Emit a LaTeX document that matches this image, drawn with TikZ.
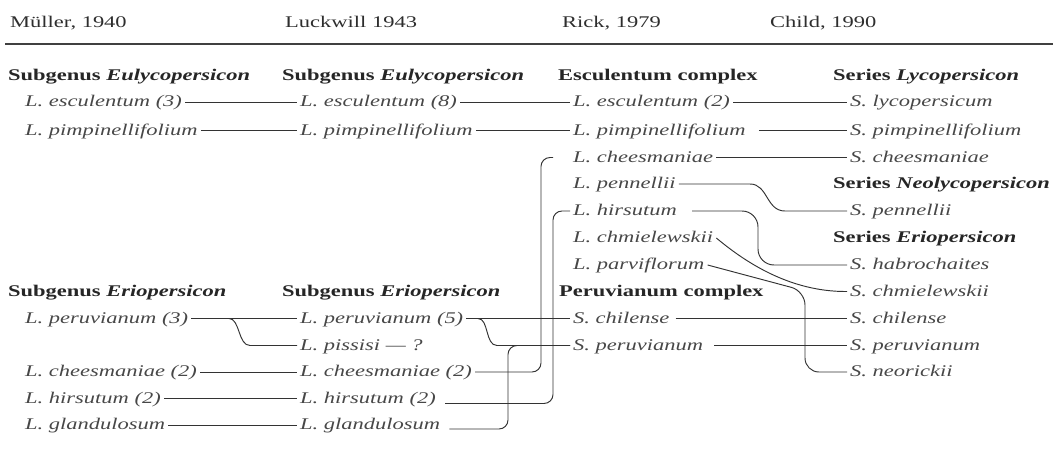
\documentclass[tikz,border=0pt]{standalone}
\usepackage{fontspec}
\setmainfont{Liberation Serif}[FakeStretch=1.38]
\begin{document}
\begin{tikzpicture}[x=1pt,y=-1pt,
  every node/.style={inner xsep=3pt, inner ysep=0pt, text height=12pt, text depth=3pt, anchor=west},
  it/.style={font=\fontsize{16.3}{19}\selectfont\itshape, text=black!72},
  bf/.style={font=\fontsize{16.3}{19}\selectfont\bfseries, text=black!85},
  hd/.style={font=\fontsize{16.3}{19}\selectfont, text=black!82, anchor=base west},
  conn/.style={draw=black!80, line width=0.95pt},
  rule/.style={draw=black!75, line width=1.9pt}]
\useasboundingbox (0,0) rectangle (1061,455);
% headers
\node[hd] (h1) at (7,27.5) {Müller, 1940};
\node[hd] (h2) at (282,27.5) {Luckwill 1943};
\node[hd] (h3) at (559,27.5) {Rick, 1979};
\node[hd] (h4) at (767,27.5) {Child, 1990};
\coordinate (rl) at (5,44);
\coordinate (rr) at (1053,44);
\draw[rule] (rl) -- (rr);
% column 1
\node[bf] (a0) at (5,75.5) {Subgenus \textit{Eulycopersicon}};
\node[it] (a1) at (22,102) {L. esculentum (3)};
\node[it] (a2) at (22,130.5) {L. pimpinellifolium};
\node[bf] (a8) at (5,291.5) {Subgenus \textit{Eriopersicon}};
\node[it] (a9) at (22,318.5) {L. peruvianum (3)};
\node[it] (a11) at (22,372) {L. cheesmaniae (2)};
\node[it] (a12) at (22,398.5) {L. hirsutum (2)};
\node[it] (a13) at (22,425) {L. glandulosum};
% column 2
\node[bf] (b0) at (279,75.5) {Subgenus \textit{Eulycopersicon}};
\node[it] (b1) at (297,102) {L. esculentum (8)};
\node[it] (b2) at (297,130.5) {L. pimpinellifolium};
\node[bf] (b8) at (279,291.5) {Subgenus \textit{Eriopersicon}};
\node[it] (b9) at (297,318.5) {L. peruvianum (5)};
\node[it] (b10) at (297,345.5) {L. pissisi — ?};
\node[it] (b11) at (297,372) {L. cheesmaniae (2)};
\node[it] (b12) at (297,398.5) {L. hirsutum (2)};
\node[it] (b13) at (297,425) {L. glandulosum};
% column 3
\node[bf] (c0) at (555,75.5) {Esculentum complex};
\node[it] (c1) at (570,102) {L. esculentum (2)};
\node[it] (c2) at (570,130.5) {L. pimpinellifolium};
\node[it] (c3) at (570,157.5) {L. cheesmaniae};
\node[it] (c4) at (570,184) {L. pennellii};
\node[it] (c5) at (570,211) {L. hirsutum};
\node[it] (c6) at (570,238) {L. chmielewskii};
\node[it] (c7) at (570,265) {L. parviflorum};
\node[bf] (c8) at (556,291.5) {Peruvianum complex};
\node[it] (c9) at (570,318.5) {S. chilense};
\node[it] (c10) at (570,345.5) {S. peruvianum};
% column 4
\node[bf] (d0) at (830,75.5) {Series \textit{Lycopersicon}};
\node[it] (d1) at (847,102) {S. lycopersicum};
\node[it] (d2) at (847,130.5) {S. pimpinellifolium};
\node[it] (d3) at (847,157.5) {S. cheesmaniae};
\node[bf] (d4) at (830,184) {Series \textit{Neolycopersicon}};
\node[it] (d5) at (847,211) {S. pennellii};
\node[bf] (d6) at (830,238) {Series \textit{Eriopersicon}};
\node[it] (d7) at (847,265) {S. habrochaites};
\node[it] (d8) at (847,291.5) {S. chmielewskii};
\node[it] (d9) at (847,318.5) {S. chilense};
\node[it] (d10) at (847,345.5) {S. peruvianum};
\node[it] (d11) at (847,372) {S. neorickii};
% connectors column 1 -> 2
\draw[conn] (a1.east) -- (b1.west);
\draw[conn] (a2.east) -- (b2.west);
\draw[conn] (a9.east) -- (b9.west);
\draw[conn] (a9.east) -- (229,318.5) .. controls (240,318.5) and (238,345.5) .. (250,345.5) -- (b10.west);
\draw[conn] (a11.east) -- (b11.west);
\draw[conn] (a12.east) -- (b12.west);
\draw[conn] (a13.east) -- (b13.west);
% connectors column 2 -> 3
\draw[conn] (b1.east) -- (c1.west);
\draw[conn] (b2.east) -- (c2.west);
\draw[conn] (b9.east) -- (c9.west);
\draw[conn] (b9.east) -- (478,318.5) .. controls (489,318.5) and (485,345.5) .. (497,345.5) -- (c10.west);
\draw[conn, rounded corners=9pt] (b11.east) -| (541,157.5) -- ([xshift=-17pt]c3.west);
\draw[conn, rounded corners=9pt] ([xshift=6pt,yshift=-5pt]b12.east) -| (553,211) -- (c5.west);
\draw[conn, rounded corners=9pt] ([xshift=6pt,yshift=-4pt]b13.east) -| (508,345.5) -- (c10.west);
% connectors column 3 -> 4
\draw[conn] (c1.east) -- (d1.west);
\draw[conn] ([xshift=10pt]c2.east) -- (d2.west);
\draw[conn] (c3.east) -- (d3.west);
\draw[conn] (c4.east) -- (750,184) .. controls (768,184) and (766,211) .. (785,211) -- (d5.west);
\draw[conn, rounded corners=16pt] ([xshift=12pt]c5.east) -| (758,265) -- (d7.west);
\draw[conn] (c6.east) .. controls (745,262) and (790,292) .. (d8.west);
\draw[conn, rounded corners=14pt] (c7.east) -- (805,291) -- (805,372) -- (d11.west);
\draw[conn] ([xshift=3pt]c9.east) -- (d9.west);
\draw[conn] ([xshift=8pt]c10.east) -- (d10.west);
\end{tikzpicture}
\end{document}
